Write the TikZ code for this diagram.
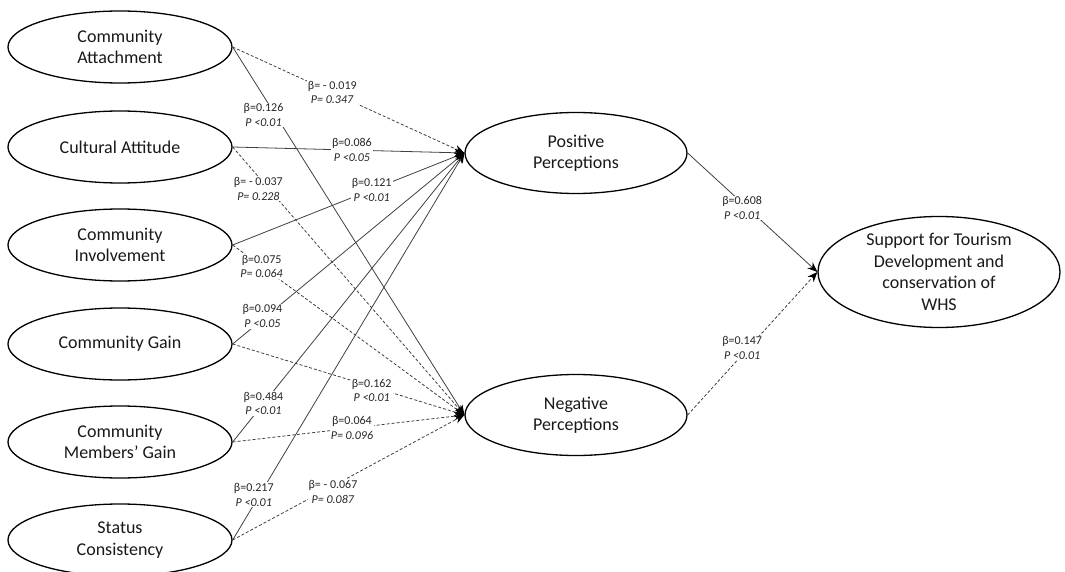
\documentclass[tikz,border=0pt]{standalone}
\usepackage{fontspec}
\setmainfont{Carlito}
\usetikzlibrary{shapes.geometric,arrows.meta}
\begin{document}
\begin{tikzpicture}[x=1pt,y=-1pt,
  etxt/.style={align=center, font=\fontsize{18}{21.5}\selectfont, text=black!90},
  ell/.style={draw=black, line width=1.3pt, ellipse, inner sep=0pt, etxt},
  src/.style={ell, minimum width=224pt, minimum height=72pt},
  mid/.style={ell, minimum width=222pt, minimum height=81pt},
  sig/.style={draw=black!75, line width=0.8pt, -{Stealth[length=10pt,width=8pt,color=black]}},
  nsig/.style={sig, dash pattern=on 3pt off 2pt},
  lbl/.style={fill=white, inner sep=1pt, align=center, font=\fontsize{12}{14.5}\selectfont, text=black!85},
]
\useasboundingbox (0,0) rectangle (1065,572);

\node[src] (ca) at (120,47) {Community\\Attachment};
\node[src] (cu) at (120,147) {Cultural Attitude};
\node[src] (ci) at (120,245) {Community\\Involvement};
\node[src] (cg) at (120,344) {Community Gain};
\node[src] (cm) at (120,442) {Community\\Members’ Gain};
\node[src] (sc) at (120,540) {Status\\Consistency};
\node[mid] (pp) at (576,153) {Positive\\Perceptions};
\node[mid] (np) at (576,415) {Negative\\Perceptions};
\node[ell, minimum width=242pt, minimum height=111pt,
  label={[etxt]center:Support for Tourism\\Development and\\conservation of\\WHS}] (sup) at (939,272) {};

% connectors
\draw[nsig] (ca.east) -- (pp.west);
\draw[sig]  (cu.east) -- (pp.west);
\draw[sig]  (ci.east) -- (pp.west);
\draw[sig]  (cg.east) -- (pp.west);
\draw[sig]  (cm.east) -- (pp.west);
\draw[sig]  (sc.east) -- (pp.west);
\draw[sig]  (ca.east) -- (np.west);
\draw[nsig] (cu.east) -- (np.west);
\draw[nsig] (ci.east) -- (np.west);
\draw[nsig] (cg.east) -- (np.west);
\draw[nsig] (cm.east) -- (np.west);
\draw[nsig] (sc.east) -- (np.west);
\draw[sig]  (pp.east) -- (sup.west);
\draw[nsig] (np.east) -- (sup.west);

% labels
\path (ca.east) -- node[lbl,pos=0.43] {β= - 0.019\\\textit{P= 0.347}} (pp.west);
\path (cu.east) -- node[lbl,pos=0.515] {β=0.086\\\textit{P <0.05}} (pp.west);
\path (ci.east) -- node[lbl,pos=0.60] {β=0.121\\\textit{P <0.01}} (pp.west);
\path (cg.east) -- node[lbl,pos=0.146,xshift=-4pt] {β=0.094\\\textit{P <0.05}} (pp.west);
\path (cm.east) -- node[lbl,pos=0.133] {β=0.484\\\textit{P <0.01}} (pp.west);
\path (sc.east) -- node[lbl,pos=0.117,xshift=-6pt] {β=0.217\\\textit{P <0.01}} (pp.west);
\path (ca.east) -- node[lbl,pos=0.185,xshift=-12pt] {β=0.126\\\textit{P <0.01}} (np.west);
\path (cu.east) -- node[lbl,pos=0.137,xshift=-6pt,yshift=-5pt] {β= - 0.037\\\textit{P= 0.228}} (np.west);
\path (ci.east) -- node[lbl,pos=0.125] {β=0.075\\\textit{P= 0.064}} (np.west);
\path (cg.east) -- node[lbl,pos=0.6,yshift=-4pt] {β=0.162\\\textit{P <0.01}} (np.west);
\path (cm.east) -- node[lbl,pos=0.515] {β=0.064\\\textit{P= 0.096}} (np.west);
\path (sc.east) -- node[lbl,pos=0.433,yshift=-6pt] {β= - 0.067\\\textit{P= 0.087}} (np.west);
\path (pp.east) -- node[lbl,pos=0.42,yshift=-5pt] {β=0.608\\\textit{P <0.01}} (sup.west);
\path (np.east) -- node[lbl,pos=0.42,yshift=7pt] {β=0.147\\\textit{P <0.01}} (sup.west);
\end{tikzpicture}
\end{document}
